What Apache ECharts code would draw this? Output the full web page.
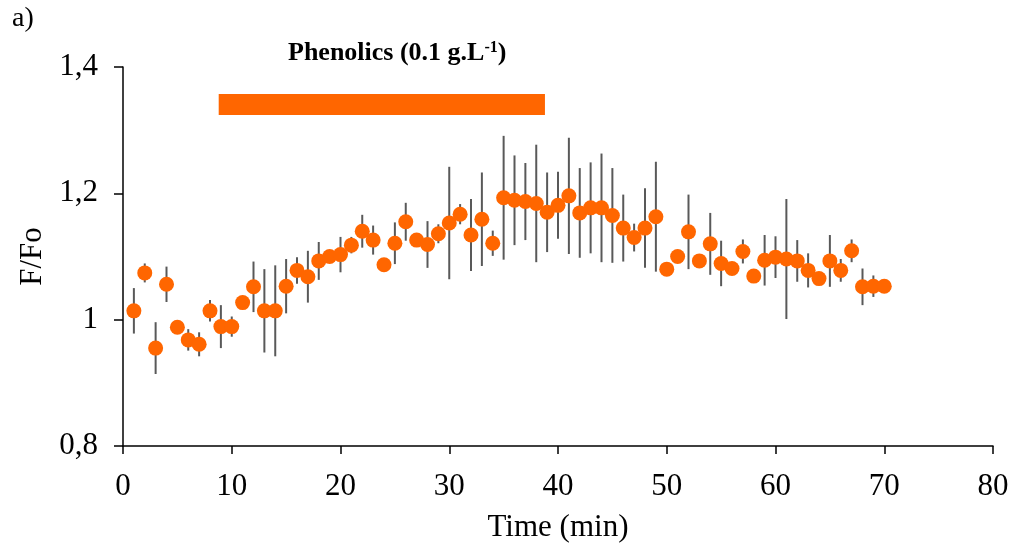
<!DOCTYPE html>
<html>
<head>
<meta charset="utf-8">
<script src="https://cdn.jsdelivr.net/npm/echarts@6/dist/echarts.min.js"></script>
<style>
html,body{margin:0;padding:0;background:#fff;}
#chart{width:1014px;height:551px;}
</style>
</head>
<body>
<div id="chart"></div>
<script>
// ---- data ----
var timeMin = [1,2,3,4,5,6,7,8,9,10,11,12,13,14,15,16,17,18,19,20,21,22,23,24,25,26,27,28,29,30,31,32,33,34,35,36,37,38,39,40,41,42,43,44,45,46,47,48,49,50,51,52,53,54,55,56,57,58,59,60,61,62,63,64,65,66,67,68,69,70];
var meanFFo = [1.014,1.074,0.955,1.056,0.988,0.968,0.961,1.014,0.989,0.989,1.027,1.052,1.014,1.014,1.053,1.078,1.068,1.093,1.100,1.103,1.118,1.140,1.126,1.087,1.121,1.155,1.126,1.119,1.136,1.153,1.167,1.134,1.159,1.121,1.193,1.189,1.187,1.184,1.170,1.181,1.196,1.169,1.177,1.177,1.165,1.145,1.130,1.145,1.163,1.080,1.100,1.139,1.093,1.120,1.089,1.081,1.108,1.069,1.094,1.099,1.096,1.093,1.078,1.065,1.093,1.078,1.109,1.052,1.053,1.053];
var errFFo = [0.036,0.015,0.041,0.028,0.008,0.017,0.019,0.017,0.034,0.016,0.008,0.040,0.066,0.072,0.043,0.021,0.041,0.030,0.010,0.028,0.013,0.026,0.023,0.008,0.033,0.030,0.010,0.037,0.015,0.089,0.016,0.057,0.074,0.020,0.098,0.071,0.061,0.093,0.063,0.053,0.092,0.071,0.072,0.086,0.075,0.053,0.022,0.063,0.087,0.008,0.008,0.059,0.008,0.049,0.036,0.008,0.019,0.008,0.040,0.033,0.095,0.033,0.027,0.008,0.041,0.018,0.018,0.029,0.017,0.008];
var treatmentStart = 8.8;
var treatmentEnd = 38.8;
var treatmentLevel = 1.3406;
var yTickValues = [0.8, 1.0, 1.2, 1.4];
var yTickLabels = ['0,8', '1', '1,2', '1,4'];
var xTickLabels = ['0','10','20','30','40','50','60','70','80'];

// ---- build ----
var points = timeMin.map(function (t, i) { return [t, meanFFo[i]]; });
var errData = timeMin.map(function (t, i) { return [t, meanFFo[i] - errFFo[i], meanFFo[i] + errFFo[i]]; });

var chart = echarts.init(document.getElementById('chart'), null, {renderer: 'canvas'});
var serif = '"Liberation Serif", "Times New Roman", serif';

chart.setOption({
  animation: false,
  backgroundColor: '#ffffff',
  title: {
    text: '{b|Phenolics (0.1 g.L}{s|-1}{b|)}',
    left: 283,
    top: 35,
    textStyle: {
      rich: {
        b: {fontFamily: serif, fontWeight: 'bold', fontSize: 26, color: '#000'},
        s: {fontFamily: serif, fontWeight: 'bold', fontSize: 16, color: '#000', verticalAlign: 'top'}
      }
    }
  },
  graphic: [{
    type: 'text',
    left: 12,
    top: 5,
    style: {text: 'a)', font: '28px ' + serif, fill: '#000'}
  }],
  grid: {left: 123, right: 21, top: 67, bottom: 105},
  xAxis: {
    type: 'value',
    min: 0, max: 80, interval: 10,
    name: 'Time (min)',
    nameLocation: 'middle',
    nameGap: 66,
    nameTextStyle: {fontFamily: serif, fontSize: 31, color: '#000'},
    axisLine: {show: true, onZero: false, lineStyle: {color: '#000', width: 1.5}},
    axisTick: {show: true, inside: false, length: 8, lineStyle: {color: '#000', width: 1.5}},
    axisLabel: {
      fontFamily: serif, fontSize: 31, color: '#000', margin: 25,
      formatter: function (v) { return xTickLabels[Math.round(v / 10)]; }
    },
    splitLine: {show: false}
  },
  yAxis: {
    type: 'value',
    min: 0.8, max: 1.4, interval: 0.2,
    name: 'F/Fo',
    nameLocation: 'middle',
    nameRotate: 90,
    nameGap: 67,
    nameTextStyle: {fontFamily: serif, fontSize: 31, color: '#000'},
    axisLine: {show: true, onZero: false, lineStyle: {color: '#000', width: 1.5}},
    axisTick: {show: true, inside: false, length: 9, lineStyle: {color: '#000', width: 1.5}},
    axisLabel: {
      fontFamily: serif, fontSize: 31, color: '#000', margin: 25,
      formatter: function (v) {
        for (var k = 0; k < yTickValues.length; k++) {
          if (Math.abs(yTickValues[k] - v) < 1e-6) return yTickLabels[k];
        }
        return '';
      }
    },
    splitLine: {show: false}
  },
  series: [
    {
      type: 'line',
      data: [[treatmentStart, treatmentLevel], [treatmentEnd, treatmentLevel]],
      showSymbol: false,
      symbol: 'none',
      lineStyle: {color: '#FF6600', width: 21, cap: 'butt'},
      silent: true,
      z: 1
    },
    {
      type: 'custom',
      data: errData,
      renderItem: function (params, api) {
        var x = api.value(0);
        var lo = api.coord([x, api.value(1)]);
        var hi = api.coord([x, api.value(2)]);
        return {
          type: 'line',
          shape: {x1: lo[0], y1: lo[1], x2: hi[0], y2: hi[1]},
          style: {stroke: '#595959', lineWidth: 2}
        };
      },
      z: 2
    },
    {
      type: 'scatter',
      data: points,
      symbol: 'circle',
      symbolSize: 15,
      itemStyle: {color: '#FF6600', opacity: 1},
      z: 3
    }
  ]
});
</script>
</body>
</html>
